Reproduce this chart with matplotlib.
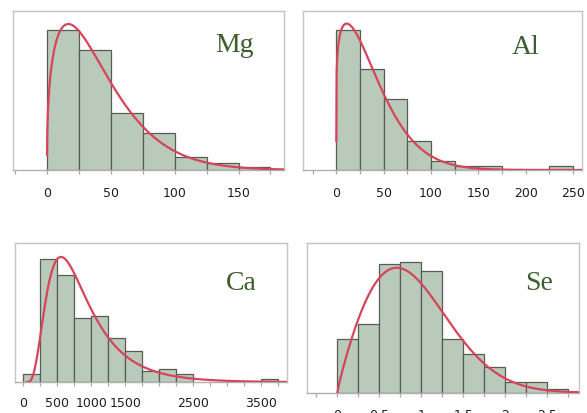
import numpy as np
import matplotlib
matplotlib.use("Agg")
import matplotlib.pyplot as plt

# ---------------- data ----------------
mg_counts = [42, 36, 17, 11, 4, 2, 1]
mg_bin_start, mg_bin_width = 0, 25
al_counts = [32.5, 23.5, 16.5, 6.7, 2, 1, 1, 0, 0, 1]
al_bin_start, al_bin_width = 0, 25
ca_counts = [2, 28, 24.5, 14.6, 15.1, 10, 7.2, 2.5, 3, 2, 0, 0, 0, 0, 0.85]
ca_bin_start, ca_bin_width = 0, 250
se_counts = [10.25, 13.2, 24.7, 25.2, 23.4, 10.25, 7.4, 5, 2, 2, 0.8]
se_bin_start, se_bin_width = 0, 0.25

# fitted density curves: (peak height, mode, shape b, power p) or lognormal (peak, mode, sigma)
mg_fit = dict(kind="gg", peak=43.8, mode=16.7, b=0.385, p=1.3, start=0.02)
al_fit = dict(kind="gg", peak=34.0, mode=10.9, b=0.15, p=1.5, start=1e-4)
ca_fit = dict(kind="ln", peak=28.5, mode=554, sigma=0.566, start=40)
se_fit = dict(kind="gg", peak=24.0, mode=0.706, b=0.88, p=2.0, start=0.0)

mg_ticks = [-25, 0, 25, 50, 75, 100, 125, 150, 175]
mg_labels = ["", "0", "", "50", "", "100", "", "150", ""]
al_ticks = [-25, 0, 25, 50, 75, 100, 125, 150, 175, 200, 225, 250]
al_labels = ["", "0", "", "50", "", "100", "", "150", "", "200", "", "250"]
ca_ticks = [0, 250, 500, 750, 1000, 1250, 1500, 1750, 2000, 2250, 2500, 2750, 3000, 3250, 3500, 3750]
ca_labels = ["0", "", "500", "", "1000", "", "1500", "", "", "", "2500", "", "", "", "3500", ""]
se_ticks = [-0.25, 0, 0.25, 0.5, 0.75, 1.0, 1.25, 1.5, 1.75, 2.0, 2.25, 2.5, 2.75]
se_labels = ["", "0", "", "0.5", "", "1", "", "1.5", "", "2", "", "2.5", ""]

names = ["Mg", "Al", "Ca", "Se"]

# ---------------- style ----------------
W, H = 587, 414
BAR_FC = "#b9cabb"
BAR_EC = "#555b55"
CURVE_C = "#d6455a"
TITLE_C = "#3d5e2c"
FRAME_C = "#c4c4c4"
TICK_C = "#a8a8a8"

fig = plt.figure(figsize=(W / 100, H / 100), dpi=100)


def px_axes(l, t, r, b):
    return fig.add_axes([l / W, 1 - b / H, (r - l) / W, (b - t) / H])


def curve(fit, x):
    if fit["kind"] == "gg":
        r = np.maximum(x / fit["mode"], 1e-300)
        return fit["peak"] * np.exp(fit["b"] * np.log(r) - fit["b"] / fit["p"] * (r ** fit["p"] - 1))
    r = x / fit["mode"]
    return fit["peak"] * np.exp(-np.log(r) ** 2 / (2 * fit["sigma"] ** 2))


panels = [
    dict(box=(13.3, 11.7, 284, 171), xlim=(-26.4, 185.6), ytop=47.8,
         counts=mg_counts, start=mg_bin_start, width=mg_bin_width, fit=mg_fit,
         ticks=mg_ticks, labels=mg_labels, pad=8.2, title_xy=(215.5, 51.5)),
    dict(box=(303.3, 11.7, 582, 171), xlim=(-34.9, 259.5), ytop=37.0,
         counts=al_counts, start=al_bin_start, width=al_bin_width, fit=al_fit,
         ticks=al_ticks, labels=al_labels, pad=8.2, title_xy=(511.5, 54)),
    dict(box=(14.7, 244, 286.7, 383.3), xlim=(-127, 3873), ytop=31.66,
         counts=ca_counts, start=ca_bin_start, width=ca_bin_width, fit=ca_fit,
         ticks=ca_ticks, labels=ca_labels, pad=6.6, title_xy=(226, 290)),
    dict(box=(306.7, 244.3, 578.7, 393.7), xlim=(-0.365, 2.873), ytop=28.7,
         counts=se_counts, start=se_bin_start, width=se_bin_width, fit=se_fit,
         ticks=se_ticks, labels=se_labels, pad=8.2, title_xy=(525, 290)),
]

for name, pnl in zip(names, panels):
    ax = px_axes(*pnl["box"])
    counts = np.asarray(pnl["counts"], dtype=float)
    edges = pnl["start"] + pnl["width"] * np.arange(len(counts))
    keep = counts > 0
    ax.bar(edges[keep], counts[keep], width=pnl["width"], align="edge",
           color=BAR_FC, edgecolor=BAR_EC, linewidth=0.9, zorder=2)
    fit = pnl["fit"]
    xs = np.linspace(fit["start"], pnl["xlim"][1], 800)
    ax.plot(xs, curve(fit, xs), color=CURVE_C, lw=1.6, zorder=3, solid_capstyle="round")
    ax.set_xlim(*pnl["xlim"])
    ax.set_ylim(0, pnl["ytop"])
    ax.set_yticks([])
    ax.set_xticks(pnl["ticks"])
    ax.set_xticklabels(pnl["labels"], fontsize=9, family="DejaVu Sans", color="#1e1e1e")
    ax.tick_params(axis="x", direction="out", length=3, width=0.9, color=TICK_C, pad=pnl["pad"])
    for s in ax.spines.values():
        s.set_color(FRAME_C)
        s.set_linewidth(1.0)
    ax.spines["bottom"].set_color("#b0b0b0")
    tx, ty = pnl["title_xy"]
    fig.text(tx / W, 1 - ty / H, name, ha="left", va="baseline",
             fontsize=20, family="Liberation Serif", color=TITLE_C)

fig.savefig("out.png", dpi=100)
